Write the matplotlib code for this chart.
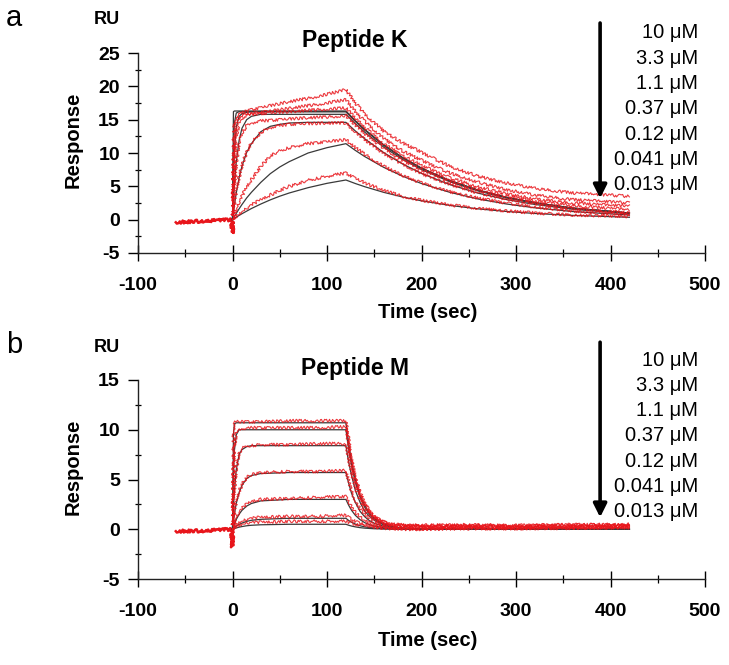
import matplotlib
matplotlib.use("Agg")
import matplotlib.pyplot as plt
from matplotlib.ticker import MultipleLocator

plt.rcParams["font.family"] = ["Liberation Sans", "DejaVu Sans"]
plt.rcParams["axes.unicode_minus"] = False

# concentration labels (same series for both peptides)
conc_labels = ["10 \u03bcM", "3.3 \u03bcM", "1.1 \u03bcM", "0.37 \u03bcM",
               "0.12 \u03bcM", "0.041 \u03bcM", "0.013 \u03bcM"]

# ---- Peptide K (panel a) ----
k_t_base = [-60, -45, -30, -15, -1, 0, 0.5]
k_y_base = [-0.4, -0.3, -0.2, -0.1, 0.0, -2.0, 0.0]
k_t_on = [0, 1, 2, 4, 7, 10, 15, 20, 30, 40, 50, 60, 80, 100, 120]
k_t_off = [120, 130, 140, 160, 180, 200, 230, 260, 290, 320, 360, 420]
k_fit_on = [
    [0, 16.2, 16.3, 16.3, 16.3, 16.3, 16.3, 16.3, 16.3, 16.3, 16.3, 16.3, 16.3, 16.3, 16.3],
    [0, 10.5, 14.5, 16.0, 16.2, 16.2, 16.2, 16.2, 16.2, 16.2, 16.2, 16.2, 16.2, 16.2, 16.2],
    [0, 6.4, 10.2, 13.9, 15.5, 15.9, 16.1, 16.2, 16.2, 16.2, 16.2, 16.2, 16.2, 16.2, 16.2],
    [0, 2.9, 5.2, 8.7, 11.9, 13.7, 15.0, 15.5, 15.8, 15.8, 15.8, 15.8, 15.8, 15.8, 15.8],
    [0, 1.1, 2.2, 4.0, 6.3, 8.0, 10.1, 11.4, 13.2, 14.0, 14.3, 14.5, 14.6, 14.6, 14.6],
    [0, 0.25, 0.49, 0.96, 1.63, 2.27, 3.26, 4.1, 5.6, 6.9, 7.9, 8.7, 10.0, 10.8, 11.4],
    [0, 0.09, 0.19, 0.37, 0.64, 0.89, 1.28, 1.67, 2.35, 2.97, 3.52, 4.0, 4.8, 5.45, 5.95],
]
k_fit_off = [
    [16.3, 14.85, 13.53, 11.23, 9.32, 7.74, 5.87, 4.43, 3.36, 2.54, 1.74, 0.99],
    [16.2, 14.76, 13.45, 11.16, 9.27, 7.70, 5.83, 4.41, 3.34, 2.53, 1.73, 0.99],
    [16.2, 14.76, 13.45, 11.16, 9.27, 7.70, 5.83, 4.41, 3.34, 2.53, 1.73, 0.99],
    [15.8, 14.39, 13.11, 10.89, 9.04, 7.51, 5.69, 4.30, 3.25, 2.46, 1.69, 0.96],
    [14.6, 13.30, 12.12, 10.06, 8.35, 6.94, 5.26, 3.97, 3.01, 2.28, 1.56, 0.89],
    [11.4, 10.39, 9.46, 7.85, 6.52, 5.42, 4.10, 3.10, 2.35, 1.78, 1.22, 0.70],
    [5.95, 5.42, 4.94, 4.10, 3.40, 2.83, 2.14, 1.62, 1.23, 0.93, 0.64, 0.36],
]
k_red_on = [
    [0, 12.0, 14.5, 15.3, 15.8, 16.0, 16.3, 16.5, 16.8, 17.1, 17.4, 17.7, 18.2, 18.8, 19.5],
    [0, 8.0, 12.0, 14.5, 15.3, 15.6, 15.8, 15.9, 16.1, 16.3, 16.5, 16.7, 17.1, 17.5, 18.0],
    [0, 5.0, 8.5, 12.5, 14.5, 15.2, 15.6, 15.8, 15.9, 16.0, 16.1, 16.2, 16.4, 16.6, 16.75],
    [0, 2.8, 5.0, 8.5, 11.5, 13.0, 14.1, 14.5, 14.8, 14.9, 15.0, 15.1, 15.3, 15.4, 15.6],
    [0, 1.1, 2.2, 4.1, 6.4, 8.1, 10.2, 11.5, 13.1, 13.8, 14.1, 14.3, 14.4, 14.5, 14.5],
    [0, 0.4, 0.8, 1.5, 2.6, 3.5, 4.9, 6.0, 8.0, 9.6, 10.3, 10.8, 11.4, 11.7, 12.0],
    [0, 0.15, 0.3, 0.5, 0.9, 1.2, 1.7, 2.2, 3.0, 3.7, 4.4, 5.0, 5.9, 6.5, 7.0],
]
k_red_off = [
    [19.5, 17.5, 15.8, 13.3, 11.5, 10.1, 8.0, 6.5, 5.5, 4.7, 4.0, 3.5],
    [18.0, 16.2, 14.7, 12.2, 10.3, 8.9, 7.0, 5.6, 4.5, 3.7, 3.0, 2.5],
    [16.75, 15.2, 13.8, 11.4, 9.6, 8.1, 6.3, 4.9, 3.9, 3.1, 2.5, 2.0],
    [15.6, 14.2, 12.9, 10.7, 8.9, 7.5, 5.8, 4.5, 3.5, 2.8, 2.1, 1.5],
    [14.5, 13.2, 12.0, 9.9, 8.3, 6.9, 5.3, 4.0, 3.1, 2.4, 1.7, 1.0],
    [12.0, 10.8, 9.8, 8.0, 6.6, 5.5, 4.2, 3.2, 2.5, 1.9, 1.3, 0.8],
    [7.0, 6.2, 5.5, 4.4, 3.5, 2.9, 2.2, 1.7, 1.3, 1.0, 0.7, 0.5],
]

# ---- Peptide M (panel b) ----
m_t_base = [-60, -30, -1, 0, 0.5]
m_y_base = [-0.2, -0.15, 0.0, -1.8, 0.0]
m_t_on = [0, 1, 2, 4, 7, 10, 15, 20, 30, 60, 90, 120]
m_t_off = [120, 123, 126, 130, 135, 140, 145, 150, 160, 170, 180, 200, 250, 300, 350, 420]
m_fit_on = [
    [0, 9.5, 10.6, 10.7, 10.7, 10.7, 10.7, 10.7, 10.7, 10.7, 10.7, 10.7],
    [0, 5.4, 7.9, 9.5, 10.0, 10.0, 10.0, 10.0, 10.0, 10.0, 10.0, 10.0],
    [0, 2.2, 3.9, 6.0, 7.5, 8.0, 8.3, 8.4, 8.4, 8.4, 8.4, 8.4],
    [0, 0.8, 1.5, 2.6, 3.7, 4.4, 5.1, 5.4, 5.6, 5.7, 5.7, 5.7],
    [0, 0.29, 0.54, 0.99, 1.51, 1.9, 2.33, 2.59, 2.85, 3.0, 3.0, 3.0],
    [0, 0.09, 0.17, 0.32, 0.49, 0.62, 0.79, 0.9, 1.0, 1.1, 1.1, 1.1],
    [0, 0.04, 0.07, 0.13, 0.21, 0.27, 0.35, 0.4, 0.45, 0.5, 0.5, 0.5],
]
m_fit_off = [
    [10.7, 8.6, 6.8, 5.0, 3.4, 2.4, 1.6, 1.1, 0.54, 0.26, 0.12, 0.02, 0, 0, 0, 0],
    [10.0, 8.0, 6.4, 4.7, 3.2, 2.2, 1.5, 1.05, 0.5, 0.24, 0.11, 0.02, 0, 0, 0, 0],
    [8.4, 6.7, 5.4, 3.9, 2.7, 1.8, 1.3, 0.9, 0.42, 0.2, 0.09, 0.02, 0, 0, 0, 0],
    [5.7, 4.6, 3.6, 2.7, 1.8, 1.25, 0.86, 0.6, 0.29, 0.14, 0.06, 0.01, 0, 0, 0, 0],
    [3.0, 2.4, 1.9, 1.4, 0.96, 0.66, 0.45, 0.32, 0.15, 0.07, 0.03, 0, 0, 0, 0, 0],
    [1.1, 0.88, 0.7, 0.52, 0.35, 0.24, 0.17, 0.12, 0.06, 0.03, 0.01, 0, 0, 0, 0, 0],
    [0.5, 0.4, 0.32, 0.24, 0.16, 0.11, 0.08, 0.05, 0.03, 0.01, 0, 0, 0, 0, 0, 0],
]
m_red_on = [
    [0, 9.8, 10.7, 10.8, 10.8, 10.8, 10.8, 10.8, 10.8, 10.9, 10.9, 10.9],
    [0, 5.6, 8.1, 9.7, 10.1, 10.1, 10.1, 10.2, 10.2, 10.2, 10.2, 10.3],
    [0, 2.3, 4.0, 6.1, 7.6, 8.1, 8.4, 8.4, 8.5, 8.5, 8.6, 8.6],
    [0, 0.9, 1.6, 2.7, 3.8, 4.5, 5.2, 5.5, 5.7, 5.8, 5.8, 5.9],
    [0, 0.4, 0.7, 1.2, 1.7, 2.1, 2.5, 2.8, 3.0, 3.1, 3.2, 3.3],
    [0, 0.2, 0.35, 0.5, 0.7, 0.8, 1.0, 1.1, 1.2, 1.3, 1.3, 1.4],
    [0, 0.1, 0.2, 0.3, 0.4, 0.5, 0.6, 0.7, 0.7, 0.8, 0.8, 0.8],
]
m_red_off = [
    [10.9, 8.9, 7.1, 5.3, 3.7, 2.6, 1.8, 1.3, 0.75, 0.5, 0.45, 0.4, 0.45, 0.4, 0.45, 0.5],
    [10.3, 8.3, 6.7, 5.0, 3.5, 2.5, 1.7, 1.25, 0.7, 0.45, 0.4, 0.35, 0.4, 0.35, 0.4, 0.45],
    [8.6, 7.0, 5.6, 4.2, 2.9, 2.0, 1.5, 1.1, 0.6, 0.4, 0.35, 0.3, 0.3, 0.3, 0.3, 0.35],
    [5.9, 4.8, 3.8, 2.9, 2.0, 1.5, 1.1, 0.8, 0.5, 0.35, 0.25, 0.2, 0.25, 0.2, 0.25, 0.3],
    [3.3, 2.7, 2.2, 1.7, 1.2, 0.9, 0.7, 0.5, 0.3, 0.2, 0.15, 0.1, 0.15, 0.15, 0.2, 0.25],
    [1.4, 1.2, 1.0, 0.8, 0.6, 0.5, 0.4, 0.3, 0.2, 0.1, 0.05, 0.05, 0.1, 0.1, 0.15, 0.2],
    [0.8, 0.7, 0.6, 0.5, 0.4, 0.35, 0.3, 0.2, 0.1, 0.05, 0.0, 0.0, 0.05, 0.05, 0.1, 0.15],
]

RED = "#e8151b"
FIT = "#3a3a3a"
W, H = 729, 665


def fx(px):
    return px / W


def fy(py):
    return 1 - py / H


def style_axes(ax, ymin, ymax):
    ax.set_xlim(-100, 500)
    ax.set_ylim(ymin, ymax)
    for s in ("top", "right"):
        ax.spines[s].set_visible(False)
    for s in ("left", "bottom"):
        ax.spines[s].set_linewidth(1.0)
        ax.spines[s].set_color("#222222")
    ax.xaxis.set_major_locator(MultipleLocator(100))
    ax.xaxis.set_minor_locator(MultipleLocator(50))
    ax.yaxis.set_major_locator(MultipleLocator(5))
    ax.yaxis.set_minor_locator(MultipleLocator(2.5))
    ax.tick_params(axis="x", which="major", direction="inout", length=11, width=1.0, pad=12,
                   labelsize=14)
    ax.tick_params(axis="x", which="minor", direction="inout", length=6, width=0.9)
    ax.tick_params(axis="y", which="major", direction="out", length=7, width=1.0, pad=6,
                   labelsize=14)
    ax.tick_params(axis="y", which="minor", direction="inout", length=4, width=0.9)
    for lab in ax.get_xticklabels() + ax.get_yticklabels():
        lab.set_fontweight("bold")


def draw_panel(ax, t_base, y_base, t_on, t_off, fit_on, fit_off, red_on, red_off):
    ln, = ax.plot(t_base, y_base, color=RED, lw=1.8, zorder=2)
    ln.set_sketch_params(scale=1.5, length=2.0, randomness=3)
    for i in range(len(fit_on)):
        t = t_on + t_off[1:]
        f = fit_on[i] + fit_off[i][1:]
        ax.plot(t, f, color=FIT, lw=0.9, zorder=2)
    for i in range(len(red_on)):
        t = t_on + t_off[1:]
        r = red_on[i] + red_off[i][1:]
        ln, = ax.plot(t, r, color=RED, lw=0.8, alpha=0.85, zorder=3)
        ln.set_sketch_params(scale=1.5, length=2.5, randomness=3)


fig = plt.figure(figsize=(W / 100, H / 100), dpi=100)
ax1 = fig.add_axes([fx(138), fy(253), fx(705) - fx(138), fy(53) - fy(253)])
ax2 = fig.add_axes([fx(138), fy(579), fx(705) - fx(138), fy(380) - fy(579)])

draw_panel(ax1, k_t_base, k_y_base, k_t_on, k_t_off, k_fit_on, k_fit_off, k_red_on, k_red_off)
draw_panel(ax2, m_t_base, m_y_base, m_t_on, m_t_off, m_fit_on, m_fit_off, m_red_on, m_red_off)
style_axes(ax1, -5, 25)
style_axes(ax2, -5, 15)

panels = [
    (ax1, "a", "Peptide K", 0, (29.5, 3.2)),
    (ax2, "b", "Peptide M", 327, (18.8, 1.2)),
]
for ax, letter, title, off, (ya, yb) in panels:
    fig.text(fx(14), fy(18 + off), letter, fontsize=21, ha="center", va="center")
    fig.text(fx(107), fy(20 + off), "RU", fontsize=13, fontweight="bold", ha="center", va="center")
    fig.text(fx(355), fy(41 + off), title, fontsize=16.5, fontweight="bold", ha="center", va="center")
    fig.text(fx(428), fy(313 + off), "Time (sec)", fontsize=14.5, fontweight="bold",
             ha="center", va="center")
    fig.text(fx(73), fy(140 + off), "Response", fontsize=14.5, fontweight="bold",
             ha="center", va="center", rotation=90)
    ax.annotate("", xy=(389, yb), xytext=(389, ya), annotation_clip=False,
                arrowprops=dict(arrowstyle="-|>", lw=2.6, color="black", mutation_scale=20,
                                shrinkA=0, shrinkB=0))
    for j, lab in enumerate(conc_labels):
        fig.text(fx(698), fy(33 + off + 25.3 * j), lab, fontsize=14.5, ha="right", va="center")

fig.savefig("out.png", dpi=100)
